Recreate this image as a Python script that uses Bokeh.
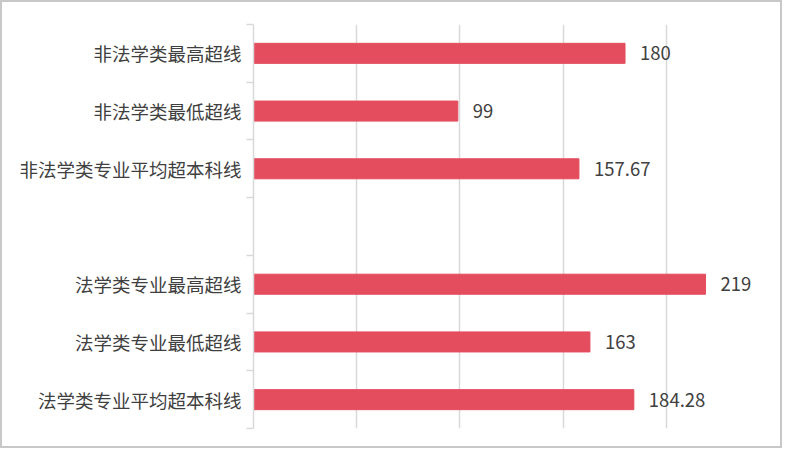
from bokeh.plotting import figure
from bokeh.models import Range1d, FixedTicker, ColumnDataSource
from bokeh.core.properties import value
from bokeh.embed import file_html
from bokeh.resources import INLINE

# ---- data (top to bottom; "" marks the empty gap slot) ----
categories = ["非法学类最高超线", "非法学类最低超线", "非法学类专业平均超本科线", "",
              "法学类专业最高超线", "法学类专业最低超线", "法学类专业平均超本科线"]
values = [180, 99, 157.67, None, 219, 163, 184.28]
x_ticks = [0, 50, 100, 150, 200, 250]

FONT = "Noto Sans CJK SC"
BAR_COLOR = "#E44D5E"
TEXT_COLOR = "#404040"
GRID_COLOR = "#D9D9D9"

n = len(categories)
centers = [n - i - 0.5 for i in range(n)]
bars_y = [c for c, v in zip(centers, values) if v is not None]
bars_v = [v for v in values if v is not None]
src = ColumnDataSource(dict(y=bars_y, v=bars_v, lab=[f"{v:g}" for v in bars_v]))

p = figure(width=782, height=448, output_backend="svg", toolbar_location=None,
           x_range=Range1d(x_ticks[0], x_ticks[-1]), y_range=Range1d(0, n),
           min_border_left=251, min_border_right=15, min_border_top=22, min_border_bottom=22)
p.outline_line_color = None
p.background_fill_color = "white"
p.border_fill_color = "white"
p.styles = {"border": "2px solid #C8C8C8"}

p.hbar(y="y", right="v", left=0, height=0.347, color=BAR_COLOR, source=src)
p.text(x="v", y="y", text="lab", source=src, x_offset=15, text_align="left",
       text_baseline="middle", text_font=value(FONT), text_font_size="18.5px",
       text_color=TEXT_COLOR)

p.xaxis.visible = False
p.xgrid.ticker = FixedTicker(ticks=x_ticks)
p.xgrid.grid_line_color = GRID_COLOR
p.xgrid.grid_line_width = 1.5
p.ygrid.grid_line_color = None

ya = p.yaxis[0]
ya.ticker = FixedTicker(ticks=centers, minor_ticks=list(range(n + 1)))
ya.major_label_overrides = {c: lab for c, lab in zip(centers, categories)}
ya.major_tick_line_color = None
ya.major_tick_out = 0
ya.major_tick_in = 0
ya.minor_tick_line_color = GRID_COLOR
ya.minor_tick_line_width = 1.5
ya.minor_tick_out = 7
ya.minor_tick_in = 0
ya.axis_line_color = GRID_COLOR
ya.axis_line_width = 1.5
ya.major_label_standoff = 5
ya.major_label_text_font = FONT
ya.major_label_text_font_size = "18.5px"
ya.major_label_text_color = TEXT_COLOR

open("out.html", "w").write(file_html(p, INLINE))
